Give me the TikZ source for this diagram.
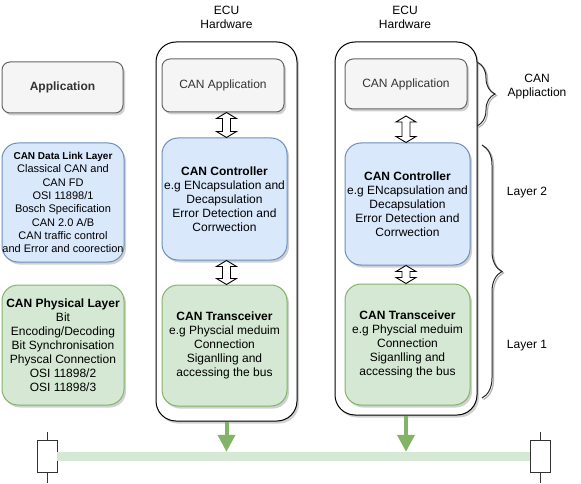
\documentclass[tikz,border=0pt]{standalone}
\usepackage{fontspec}
\setmainfont{Liberation Sans}
\usetikzlibrary{positioning, calc, shadows, arrows.meta, decorations.pathreplacing}
\definecolor{grayfill}{HTML}{F5F5F5}
\definecolor{grayline}{HTML}{666666}
\definecolor{graytext}{HTML}{333333}
\definecolor{bluefill}{HTML}{DAE8FC}
\definecolor{blueline}{HTML}{6C8EBF}
\definecolor{greenfill}{HTML}{D5E8D4}
\definecolor{greenline}{HTML}{82B366}
\tikzset{
  every node/.style={text=black, align=center, inner sep=0pt, font=\fontsize{12}{14}\selectfont},
  shade box/.style={line width=1pt, drop shadow={shadow xshift=2pt, shadow yshift=-2.5pt, opacity=0.3, fill=black!60}},
  graybox/.style={shade box, draw=grayline, fill=grayfill, text=graytext, rounded corners=8pt},
  bluebox/.style={shade box, draw=blueline, fill=bluefill, rounded corners=16pt},
  greenbox/.style={shade box, draw=greenline, fill=greenfill, rounded corners=16pt},
  ecubox/.style={shade box, draw=black, fill=white, rounded corners=20pt},
  plain/.style={draw=none, fill=none},
  terminator/.style={draw=black!80, fill=white, line width=1pt, minimum width=20pt, minimum height=32pt},
  busline/.style={fill=greenfill, draw=none, minimum height=9pt},
  busarrow/.style={draw=greenline, line width=4pt, -{Triangle[width=17pt, length=17pt]}},
  layerbrace/.style={draw=black!85, line width=1pt, decorate, decoration={brace, amplitude=#1, aspect=0.5}},
  braceshade/.style={draw=black!30, line width=1.2pt, decorate, decoration={brace, amplitude=#1, aspect=0.5}}
}
% hollow double arrow between two points
\newcommand{\hollowarrow}[2]{%
  \draw[black, fill=white, line width=0.9pt] let \p1=(#1), \p2=(#2) in
    (\x1,\y1) -- (\x1+10pt,\y1-6pt) -- (\x1+4pt,\y1-6pt) -- (\x1+4pt,\y2+6pt)
    -- (\x1+10pt,\y2+6pt) -- (\x2,\y2) -- (\x1-10pt,\y2+6pt) -- (\x1-4pt,\y2+6pt)
    -- (\x1-4pt,\y1-6pt) -- (\x1-10pt,\y1-6pt) -- cycle;}

\begin{document}
\begin{tikzpicture}[x=1pt, y=-1pt]
  \useasboundingbox (0,0) rectangle (581,484);

  % Left column
  \node (app) [graybox, minimum width=121pt, minimum height=51pt, font=\fontsize{12}{14}\selectfont\bfseries] at (62.5,87.5) {Application};
  \node (datalink) [bluebox, minimum width=122pt, minimum height=119pt, font=\fontsize{11}{13.3}\selectfont] at (63,202.5) {
    {\fontsize{10}{13.3}\selectfont\bfseries CAN Data Link Layer}\\ Classical CAN and\\ CAN FD\\ OSI 11898/1\\ Bosch Specification\\ CAN 2.0 A/B\\ CAN traffic control\\ and Error and coorection
  };
  \node (physical) [greenbox, minimum width=122pt, minimum height=120pt] at (63,345) {
    \textbf{CAN Physical Layer}\\ Bit\\ Encoding/Decoding\\ Bit Synchronisation\\ Physcal Connection\\ OSI 11898/2\\ OSI 11898/3
  };

  % ECU 1
  \node (ecu1) [ecubox, minimum width=141pt, minimum height=379pt] at (226.5,231.5) {};
  \node (title1) [plain] at (226.5,17.5) {ECU\\ Hardware};
  \node (canapp1) [graybox, minimum width=122pt, minimum height=53pt] at (223,85.5) {CAN Application};
  \node (ctrl1) [bluebox, minimum width=125pt, minimum height=122pt] at (224.5,199) {
    \textbf{CAN Controller}\\ e.g ENcapsulation and\\ Decapsulation\\ Error Detection and\\ Corrwection
  };
  \node (trx1) [greenbox, minimum width=125pt, minimum height=121pt] at (224.5,345.5) {
    \textbf{CAN Transceiver}\\ e.g Physcial meduim\\ Connection\\ Siganlling and\\ accessing the bus
  };

  % ECU 2
  \node (ecu2) [ecubox, minimum width=142pt, minimum height=373pt] at (406,228.5) {};
  \node (title2) [plain] at (405,17.5) {ECU\\ Hardware};
  \node (canapp2) [graybox, minimum width=122pt, minimum height=50pt] at (406,84) {CAN Application};
  \node (ctrl2) [bluebox, minimum width=125pt, minimum height=122pt] at (407.5,204) {
    \textbf{CAN Controller}\\ e.g ENcapsulation and\\ Decapsulation\\ Error Detection and\\ Corrwection
  };
  \node (trx2) [greenbox, minimum width=125pt, minimum height=121pt] at (407.5,344.5) {
    \textbf{CAN Transceiver}\\ e.g Physcial meduim\\ Connection\\ Siganlling and\\ accessing the bus
  };

  % Arrows inside the ECUs
  \hollowarrow{ecu1.center |- canapp1.south}{ecu1.center |- ctrl1.north}
  \hollowarrow{ecu1.center |- ctrl1.south}{ecu1.center |- trx1.north}
  \hollowarrow{ecu2.center |- 0,116}{ecu2.center |- ctrl2.north}
  \hollowarrow{ecu2.center |- ctrl2.south}{ecu2.center |- trx2.north}

  % Braces and layer labels
  \coordinate (apptop) at (477,62);
  \coordinate (appbot) at (477,126);
  \coordinate (laytop) at (482,145);
  \coordinate (laybot) at (482,398);
  \draw[braceshade=18pt] ([xshift=1.5pt, yshift=-1.5pt]apptop) -- ([xshift=1.5pt, yshift=-1.5pt]appbot);
  \draw[layerbrace=18pt] (apptop) -- (appbot);
  \draw[braceshade=20pt] ([xshift=1.5pt, yshift=-1.5pt]laytop) -- ([xshift=1.5pt, yshift=-1.5pt]laybot);
  \draw[layerbrace=20pt] (laytop) -- (laybot);
  \node (canapplbl) [plain] at (537,87) {CAN\\ Appliaction};
  \node (layer2) [plain] at (527,193) {Layer 2};
  \node (layer1) [plain] at (527,346) {Layer 1};

  % Bus
  \node (lterm) [terminator] at (47,456) {};
  \node (rterm) [terminator] at (540,456) {};
  \node (bus) [busline, minimum width=473pt] at (293.5,456.5) {};
  \draw[line width=1pt, black!80] (lterm.north) -- ++(0,-8);
  \draw[line width=1pt, black!80] (lterm.south) -- ++(0,10);
  \draw[line width=1pt, black!80] (rterm.north) -- ++(0,-8);
  \draw[line width=1pt, black!80] (rterm.south) -- ++(0,10);
  \draw[busarrow] (ecu1.south) -- (ecu1.south |- bus.north);
  \draw[busarrow] (ecu2.south) -- (ecu2.south |- bus.north);
\end{tikzpicture}
\end{document}
